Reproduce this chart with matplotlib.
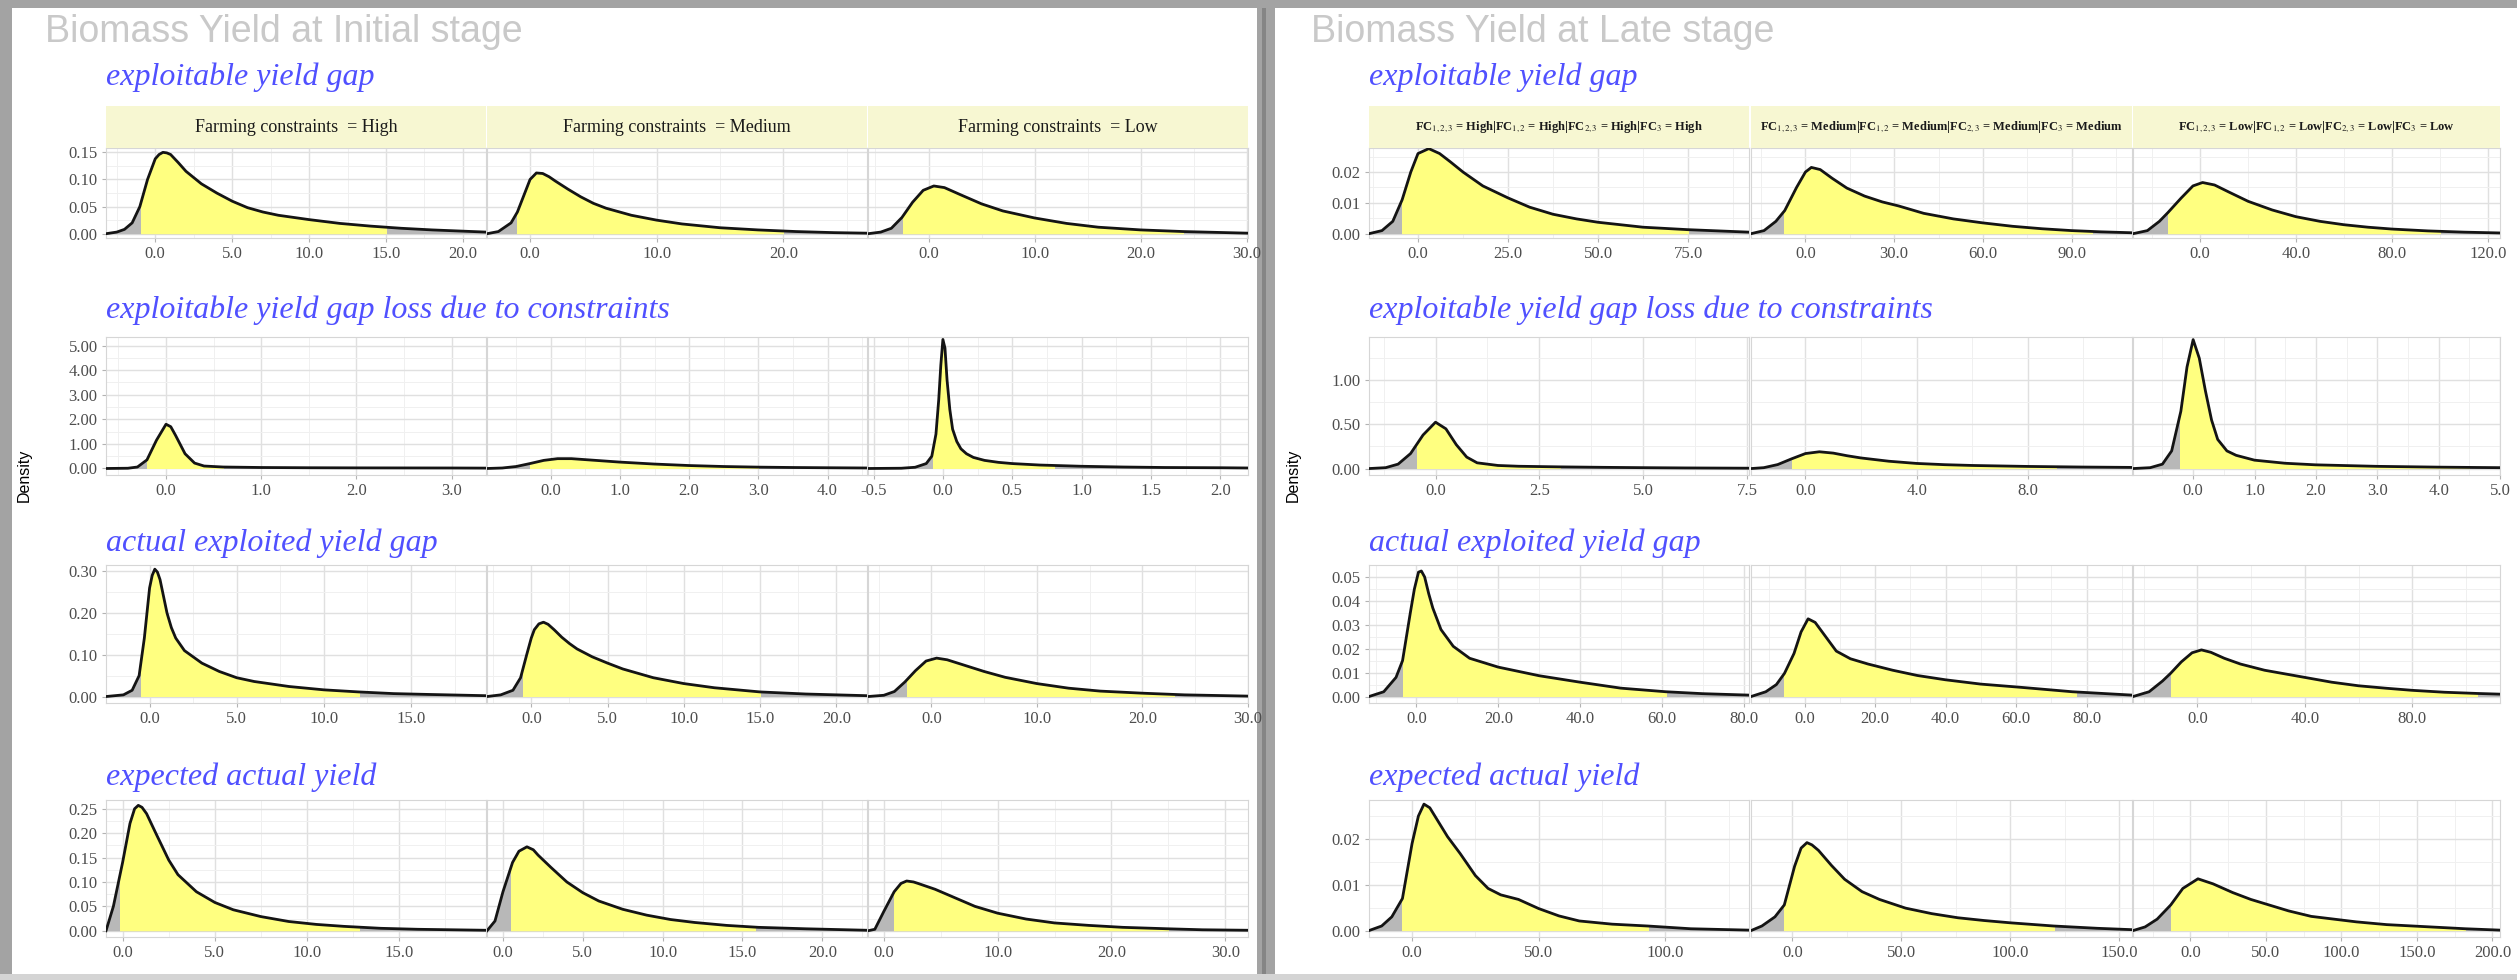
import matplotlib
matplotlib.use('Agg')
import matplotlib.pyplot as plt
from matplotlib.patches import Rectangle
from matplotlib.ticker import MultipleLocator, FormatStrFormatter, AutoMinorLocator

W, H = 2517, 980
DPI = 100

plt.rcParams['axes.unicode_minus'] = False
plt.rcParams['mathtext.fontset'] = 'stix'

# ---------------- text ----------------
init_title = 'Biomass Yield at Initial stage'
late_title = 'Biomass Yield at Late stage'
row_titles = ['exploitable yield gap',
              'exploitable yield gap loss due to constraints',
              'actual exploited yield gap',
              'expected actual yield']
init_strips = ['Farming constraints  = High',
               'Farming constraints  = Medium',
               'Farming constraints  = Low']
late_levels = ['High', 'Medium', 'Low']

# ---------------- Initial stage, density curves ----------------
# row 1: exploitable yield gap
init_gap_x = [[-3.2, -2.5, -2.0, -1.5, -1.0, -0.5, 0.0, 0.25, 0.5, 0.75, 1.0, 1.5, 2.0, 3.0, 4.0, 5.0, 6.0, 7.0, 8.0, 10.0, 12.0, 14.0, 16.0, 18.0, 21.5],
              [-3.4, -2.5, -1.5, -1.0, -0.5, 0.0, 0.5, 1.0, 1.5, 2.0, 3.0, 4.0, 5.0, 6.0, 8.0, 10.0, 12.0, 15.0, 18.0, 21.0, 24.0, 26.6],
              [-5.7, -4.5, -3.5, -2.5, -1.5, -0.5, 0.5, 1.5, 3.0, 5.0, 7.0, 10.0, 13.0, 16.0, 20.0, 24.0, 30.1]]
init_gap_y = [[0.0, 0.003, 0.008, 0.02, 0.05, 0.1, 0.138, 0.146, 0.150, 0.149, 0.146, 0.131, 0.115, 0.092, 0.075, 0.06, 0.048, 0.04, 0.034, 0.026, 0.019, 0.014, 0.010, 0.007, 0.003],
              [0.0, 0.004, 0.02, 0.04, 0.07, 0.1, 0.112, 0.111, 0.105, 0.097, 0.082, 0.068, 0.056, 0.047, 0.034, 0.025, 0.018, 0.011, 0.007, 0.004, 0.002, 0.001],
              [0.0, 0.003, 0.01, 0.03, 0.058, 0.08, 0.088, 0.085, 0.072, 0.055, 0.042, 0.029, 0.019, 0.012, 0.007, 0.004, 0.001]]
init_gap_band = [(-0.9, 15.0), (-1.0, 20.0), (-2.4, 24.0)]
init_gap_xlim = [(-3.2, 21.5), (-3.4, 26.6), (-5.7, 30.1)]
init_gap_step = [5, 10, 10]

# row 2: exploitable yield gap loss due to constraints
init_loss_x = [[-0.63, -0.4, -0.3, -0.2, -0.1, 0.0, 0.05, 0.1, 0.2, 0.3, 0.4, 0.6, 1.0, 1.5, 2.0, 3.0, 3.36],
               [-0.92, -0.7, -0.5, -0.3, -0.1, 0.1, 0.3, 0.6, 1.0, 1.5, 2.0, 2.5, 3.0, 3.5, 4.0, 4.57],
               [-0.54, -0.3, -0.2, -0.12, -0.08, -0.05, -0.03, -0.015, 0.0, 0.015, 0.03, 0.05, 0.07, 0.1, 0.13, 0.17,
                0.22, 0.3, 0.4, 0.5, 0.7, 1.0, 1.3, 1.6, 2.0, 2.2]]
init_loss_y = [[0.0, 0.01, 0.06, 0.35, 1.15, 1.8, 1.7, 1.35, 0.6, 0.22, 0.1, 0.06, 0.04, 0.03, 0.025, 0.02, 0.015],
               [0.0, 0.02, 0.08, 0.2, 0.33, 0.4, 0.4, 0.34, 0.26, 0.18, 0.12, 0.08, 0.055, 0.04, 0.03, 0.02],
               [0.0, 0.01, 0.05, 0.2, 0.5, 1.4, 2.8, 4.2, 5.25, 4.9, 3.6, 2.4, 1.6, 1.1, 0.8, 0.6,
                0.45, 0.33, 0.25, 0.2, 0.14, 0.09, 0.06, 0.04, 0.03, 0.02]]
init_loss_band = [(-0.2, 0.6), (-0.3, 3.0), (-0.07, 0.8)]
init_loss_xlim = [(-0.63, 3.36), (-0.92, 4.57), (-0.54, 2.2)]
init_loss_step = [1, 1, 0.5]

# row 3: actual exploited yield gap
init_act_x = [[-2.5, -1.5, -1.0, -0.6, -0.3, -0.15, 0.0, 0.15, 0.3, 0.45, 0.6, 0.8, 1.0, 1.25, 1.5, 2.0, 3.0, 4.0, 5.0, 6.0, 8.0, 10.0, 12.0, 14.0, 16.0, 19.3],
              [-2.9, -2.0, -1.2, -0.7, -0.3, 0.0, 0.2, 0.5, 0.8, 1.1, 1.5, 2.0, 2.5, 3.0, 4.0, 5.0, 6.0, 8.0, 10.0, 12.0, 15.0, 18.0, 22.0],
              [-6.0, -4.5, -3.5, -2.5, -1.5, -0.5, 0.5, 1.5, 3.0, 5.0, 7.0, 10.0, 13.0, 16.0, 20.0, 24.0, 30.0]]
init_act_y = [[0.0, 0.004, 0.015, 0.05, 0.14, 0.2, 0.26, 0.29, 0.305, 0.298, 0.28, 0.24, 0.2, 0.165, 0.14, 0.11, 0.08, 0.06, 0.045, 0.036, 0.024, 0.016, 0.011, 0.007, 0.005, 0.002],
              [0.0, 0.004, 0.015, 0.045, 0.1, 0.14, 0.16, 0.174, 0.178, 0.173, 0.16, 0.142, 0.127, 0.114, 0.095, 0.08, 0.066, 0.045, 0.031, 0.021, 0.011, 0.006, 0.002],
              [0.0, 0.003, 0.012, 0.035, 0.062, 0.085, 0.092, 0.088, 0.076, 0.06, 0.046, 0.031, 0.02, 0.013, 0.008, 0.004, 0.001]]
init_act_band = [(-0.5, 12.0), (-0.55, 15.0), (-2.3, 23.0)]
init_act_xlim = [(-2.5, 19.3), (-2.9, 22.0), (-6.0, 30.0)]
init_act_step = [5, 5, 10]

# row 4: expected actual yield
init_exp_x = [[-0.9, -0.5, 0.0, 0.4, 0.65, 0.85, 1.05, 1.3, 1.8, 2.5, 3.0, 4.0, 5.0, 6.0, 7.5, 9.0, 10.5, 12.0, 14.0, 16.0, 19.7],
              [-1.0, -0.5, 0.0, 0.6, 1.0, 1.5, 1.9, 2.2, 3.0, 4.0, 5.0, 6.0, 7.5, 9.0, 10.5, 12.0, 14.0, 16.0, 19.0, 22.8],
              [-1.4, -0.8, 0.0, 0.9, 1.5, 2.0, 2.6, 3.0, 4.5, 6.0, 8.0, 10.0, 12.5, 15.0, 18.0, 21.0, 25.0, 28.0, 32.0]]
init_exp_y = [[0.0, 0.05, 0.14, 0.22, 0.25, 0.257, 0.253, 0.24, 0.2, 0.145, 0.115, 0.08, 0.058, 0.043, 0.029, 0.019, 0.013, 0.009, 0.005, 0.003, 0.001],
              [0.0, 0.02, 0.08, 0.14, 0.163, 0.172, 0.166, 0.155, 0.13, 0.1, 0.078, 0.061, 0.044, 0.032, 0.023, 0.017, 0.011, 0.007, 0.004, 0.001],
              [0.0, 0.003, 0.04, 0.08, 0.097, 0.102, 0.1, 0.097, 0.085, 0.07, 0.05, 0.036, 0.024, 0.016, 0.011, 0.007, 0.004, 0.002, 0.001]]
init_exp_band = [(-0.15, 12.8), (0.5, 15.8), (0.86, 25.0)]
init_exp_xlim = [(-0.9, 19.7), (-1.0, 22.8), (-1.4, 32.0)]
init_exp_step = [5, 5, 10]

# ---------------- Late stage ----------------
late_gap_x = [[-13.6, -10, -7, -4.4, -2, 0, 3, 6, 9, 12.5, 18, 25, 31, 37.5, 44, 50, 62.5, 75, 91.9],
              [-18.4, -14, -10, -7, -3, 0, 2, 5, 9, 14, 20, 26, 31.5, 40, 50, 60, 70, 80, 90, 100, 110.4],
              [-28, -22, -17, -13.5, -8, -3, 1, 6, 12, 20, 30, 40, 50, 60, 70, 80, 95, 110, 127]]
late_gap_y = [[0.0, 0.001, 0.004, 0.011, 0.02, 0.026, 0.0276, 0.026, 0.0233, 0.02, 0.0155, 0.0116, 0.0086, 0.0063, 0.0048, 0.0037, 0.0021, 0.0013, 0.0005],
              [0.0, 0.001, 0.004, 0.0075, 0.015, 0.02, 0.0215, 0.0208, 0.018, 0.0148, 0.0122, 0.0103, 0.009, 0.0066, 0.0048, 0.0035, 0.0024, 0.0016, 0.001, 0.0006, 0.0003],
              [0.0, 0.001, 0.004, 0.0068, 0.0115, 0.0155, 0.0166, 0.0158, 0.0135, 0.0105, 0.0077, 0.0055, 0.004, 0.0029, 0.0021, 0.0015, 0.0009, 0.0005, 0.0002]]
late_gap_band = [(-4.4, 75), (-7.2, 97), (-13.5, 100)]
late_gap_xlim = [(-13.6, 91.9), (-18.4, 110.4), (-28, 125)]
late_gap_step = [25, 30, 40]

late_loss_x = [[-1.6, -1.2, -0.9, -0.6, -0.3, 0.0, 0.25, 0.5, 0.75, 1.0, 1.5, 2.0, 3.0, 4.0, 5.0, 6.0, 7.54],
               [-1.96, -1.5, -1.0, -0.5, 0.0, 0.5, 1.0, 1.5, 2.0, 3.0, 4.0, 5.0, 6.0, 8.0, 10.0, 11.75],
               [-0.98, -0.7, -0.5, -0.35, -0.2, -0.1, 0.0, 0.1, 0.2, 0.3, 0.4, 0.55, 0.7, 1.0, 1.5, 2.0, 3.0, 4.0, 5.0]]
late_loss_y = [[0.0, 0.01, 0.05, 0.17, 0.38, 0.525, 0.45, 0.27, 0.13, 0.065, 0.035, 0.026, 0.019, 0.014, 0.01, 0.007, 0.004],
               [0.0, 0.01, 0.045, 0.11, 0.17, 0.19, 0.175, 0.145, 0.12, 0.083, 0.058, 0.044, 0.035, 0.024, 0.017, 0.013],
               [0.0, 0.01, 0.05, 0.2, 0.65, 1.15, 1.46, 1.25, 0.88, 0.55, 0.33, 0.2, 0.15, 0.095, 0.06, 0.042, 0.025, 0.016, 0.01]]
late_loss_band = [(-0.45, 3.0), (-0.5, 9.0), (-0.22, 4.5)]
late_loss_xlim = [(-1.6, 7.54), (-1.96, 11.75), (-0.98, 5.0)]
late_loss_step = [2.5, 4, 1]

late_act_x = [[-11.6, -8, -5, -3.4, -1.5, -0.5, 0.5, 1.2, 2, 3, 4, 6, 9, 13, 20, 30, 40, 50, 61, 70, 81.3],
              [-15.2, -11, -8, -5.7, -3, -1, 1, 3, 6, 9, 13, 18, 25, 32, 40, 50, 61, 76, 92.9],
              [-24, -18, -13, -10, -6, -2, 1.5, 5, 10, 16, 25, 38, 50, 60, 70, 80, 92, 104, 112.7]]
late_act_y = [[0.0, 0.002, 0.008, 0.015, 0.035, 0.045, 0.052, 0.0525, 0.05, 0.043, 0.037, 0.028, 0.021, 0.016, 0.0123, 0.0087, 0.006, 0.0035, 0.002, 0.0012, 0.0006],
              [0.0, 0.002, 0.005, 0.0097, 0.018, 0.027, 0.0325, 0.031, 0.025, 0.019, 0.0158, 0.0136, 0.011, 0.0088, 0.007, 0.0052, 0.0039, 0.002, 0.0006],
              [0.0, 0.002, 0.0065, 0.0097, 0.0145, 0.0183, 0.0195, 0.0185, 0.016, 0.0136, 0.011, 0.0084, 0.006, 0.0045, 0.0035, 0.0026, 0.0018, 0.0013, 0.001]]
late_act_band = [(-3.4, 61), (-5.7, 77), (-10, 104)]
late_act_xlim = [(-11.6, 81.3), (-15.2, 92.9), (-24, 112.7)]
late_act_step = [20, 20, 40]

late_exp_x = [[-17, -12, -8, -3.8, 0, 2.5, 4.7, 7, 9, 14, 19, 25, 30, 35, 42, 50, 58, 66, 79, 93, 110, 133],
              [-19, -14, -8, -3.7, 1, 4, 6.7, 9, 12, 18, 24, 32, 40, 52, 64, 76, 88, 100, 120, 140, 156],
              [-38, -30, -22, -13, -5, 5, 15, 28, 40, 52, 65, 80, 95, 110, 130, 153, 182, 205]]
late_exp_y = [[0.0, 0.001, 0.003, 0.007, 0.019, 0.025, 0.0276, 0.0268, 0.025, 0.0205, 0.0168, 0.012, 0.0092, 0.0078, 0.0068, 0.0048, 0.0032, 0.0021, 0.0014, 0.001, 0.0004, 0.0001],
              [0.0, 0.001, 0.003, 0.0056, 0.014, 0.018, 0.0192, 0.0187, 0.0175, 0.0142, 0.0112, 0.0085, 0.0068, 0.0049, 0.0037, 0.0028, 0.0022, 0.0017, 0.001, 0.0005, 0.0002],
              [0.0, 0.0008, 0.0025, 0.0056, 0.0092, 0.0113, 0.0102, 0.0083, 0.0068, 0.0056, 0.0043, 0.0031, 0.0025, 0.0019, 0.0013, 0.0009, 0.0004, 0.0001]]
late_exp_band = [(-3.8, 93), (-3.7, 120), (-13, 182)]
late_exp_xlim = [(-17, 133), (-19, 156), (-38, 205)]
late_exp_step = [50, 50, 50]

# y axis per row
init_ylim = [(-0.0079, 0.158), (-0.265, 5.35), (-0.0155, 0.315), (-0.0128, 0.268)]
init_ystep = [0.05, 1.0, 0.10, 0.05]
late_ylim = [(-0.0014, 0.0278), (-0.073, 1.49), (-0.0027, 0.055), (-0.0014, 0.0285)]
late_ystep = [0.01, 0.5, 0.01, 0.01]

# ---------------- layout (pixels) ----------------
LEFT_COLS = [(106, 486), (487, 867), (868, 1248)]
RIGHT_COLS = [(1369, 1749), (1751, 2132), (2133, 2500)]
ROW_Y = [(148, 238), (337, 475), (565, 703), (800, 937)]
STRIP_Y = (106, 148)
ROW_TITLE_Y = [77, 310, 543, 777]

GRAY_FILL = '#B8B8B8'
YELLOW = '#FFFF80'
STRIP_BG = '#F7F7D2'
TICK_COLOR = '#4D4D4D'
SERIF = 'Liberation Serif'
SANS = 'Liberation Sans'

fig = plt.figure(figsize=(W / DPI, H / DPI), dpi=DPI, facecolor='#A3A3A3')


def fx(x):
    return x / W


def fy(y):
    return 1 - y / H


def add_px_axes(x0, y0, x1, y1, **kw):
    return fig.add_axes([fx(x0), fy(y1), (x1 - x0) / W, (y1 - y0) / H], **kw)


# window backgrounds
bg = fig.add_axes([0, 0, 1, 1], zorder=-10)
bg.set_xlim(0, W)
bg.set_ylim(H, 0)
bg.axis('off')
bg.add_patch(Rectangle((12, 8), 1245, 966, facecolor='white', edgecolor='none'))
bg.add_patch(Rectangle((1275, 8), 1242, 966, facecolor='white', edgecolor='none'))
bg.add_patch(Rectangle((1262, 8), 4, 972, facecolor='#858585', edgecolor='none'))
bg.add_patch(Rectangle((0, 974), W, 6, facecolor='#D4D4D4', edgecolor='none'))


def style_axes(ax, xlim, xstep, ylim, ystep, show_y):
    ax.set_xlim(*xlim)
    ax.set_ylim(*ylim)
    ax.xaxis.set_major_locator(MultipleLocator(xstep))
    ax.xaxis.set_minor_locator(AutoMinorLocator(2))
    ax.yaxis.set_major_locator(MultipleLocator(ystep))
    ax.yaxis.set_minor_locator(AutoMinorLocator(2))
    ax.xaxis.set_major_formatter(FormatStrFormatter('%.1f'))
    ax.yaxis.set_major_formatter(FormatStrFormatter('%.2f'))
    ax.set_axisbelow(True)
    ax.grid(which='major', color='#E0E0E0', lw=1.0)
    ax.grid(which='minor', color='#F0F0F0', lw=0.7)
    for sp in ax.spines.values():
        sp.set_color('#D6D6D6')
        sp.set_linewidth(0.8)
    ax.tick_params(which='major', length=3, width=0.8, color='#B3B3B3',
                   labelsize=12, labelcolor=TICK_COLOR, pad=3)
    ax.tick_params(which='minor', length=0)
    if not show_y:
        ax.tick_params(axis='y', which='both', length=0, labelleft=False)
    for lab in ax.get_xticklabels() + ax.get_yticklabels():
        lab.set_fontfamily(SERIF)


def draw_density(ax, xs, ys, band):
    lo, hi = band
    ax.fill_between(xs, 0, ys, color=GRAY_FILL, lw=0, zorder=2)
    poly = ax.fill_between(xs, 0, ys, color=YELLOW, lw=0, zorder=3)
    poly.set_clip_path(Rectangle((lo, -100), hi - lo, 1000, transform=ax.transData))
    ax.plot(xs, ys, color='#141414', lw=2.0, zorder=4, solid_joinstyle='round')


def draw_stage(cols, title, title_x, strips, rows, ylims, ysteps, density_x):
    fig.text(fx(title_x), fy(32), title, fontsize=27, color='#C9C9C9',
             family=SANS, ha='left', va='center')
    for r, (xs_list, ys_list, bands, xlims, steps) in enumerate(rows):
        fig.text(fx(cols[0][0]), fy(ROW_TITLE_Y[r]), row_titles[r], fontsize=23,
                 color='#5050FF', family=SERIF, style='italic', ha='left', va='center')
        y0, y1 = ROW_Y[r]
        for c, (x0, x1) in enumerate(cols):
            ax = add_px_axes(x0, y0, x1, y1)
            draw_density(ax, xs_list[c], ys_list[c], bands[c])
            style_axes(ax, xlims[c], steps[c], ylims[r], ysteps[r], c == 0)
            if r == 0:
                sax = add_px_axes(x0, STRIP_Y[0], x1, STRIP_Y[1])
                sax.set_facecolor(STRIP_BG)
                sax.set_xticks([])
                sax.set_yticks([])
                for sp in sax.spines.values():
                    sp.set_visible(False)
                lab = strips[c]
                if lab.startswith('FC'):
                    sax.text(0.5, 0.5, lab, fontsize=9, fontweight='bold', family=SERIF,
                             color='#1A1A1A', ha='center', va='center', transform=sax.transAxes)
                else:
                    sax.text(0.5, 0.5, lab, fontsize=13, family=SERIF, color='#1A1A1A',
                             ha='center', va='center', transform=sax.transAxes)
    fig.text(fx(density_x), fy(475), 'Density', rotation=90, fontsize=11.5,
             family=SANS, color='black', ha='center', va='center')


late_strips = ['|'.join(['FC$_{1,2,3}$ = ' + lv, 'FC$_{1,2}$ = ' + lv,
                         'FC$_{2,3}$ = ' + lv, 'FC$_{3}$ = ' + lv]) for lv in late_levels]

init_rows = [(init_gap_x, init_gap_y, init_gap_band, init_gap_xlim, init_gap_step),
             (init_loss_x, init_loss_y, init_loss_band, init_loss_xlim, init_loss_step),
             (init_act_x, init_act_y, init_act_band, init_act_xlim, init_act_step),
             (init_exp_x, init_exp_y, init_exp_band, init_exp_xlim, init_exp_step)]
late_rows = [(late_gap_x, late_gap_y, late_gap_band, late_gap_xlim, late_gap_step),
             (late_loss_x, late_loss_y, late_loss_band, late_loss_xlim, late_loss_step),
             (late_act_x, late_act_y, late_act_band, late_act_xlim, late_act_step),
             (late_exp_x, late_exp_y, late_exp_band, late_exp_xlim, late_exp_step)]

draw_stage(LEFT_COLS, init_title, 45, init_strips, init_rows, init_ylim, init_ystep, 24)
draw_stage(RIGHT_COLS, late_title, 1311, late_strips, late_rows, late_ylim, late_ystep, 1293)

fig.savefig('out.png', dpi=DPI, facecolor=fig.get_facecolor())
